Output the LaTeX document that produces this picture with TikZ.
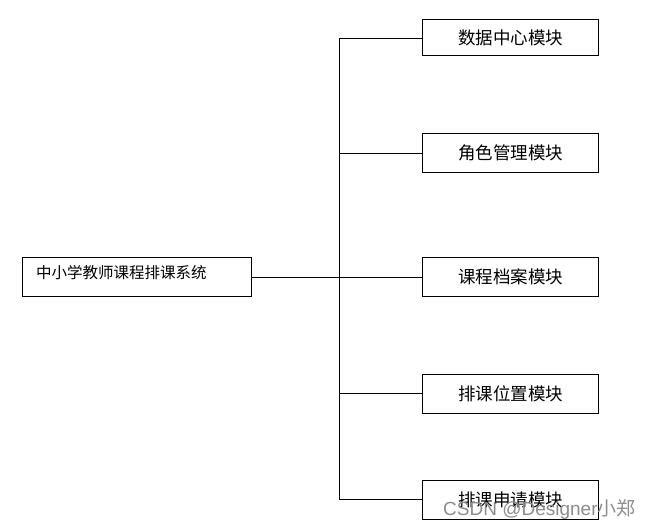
\documentclass[tikz,border=0pt]{standalone}
\usepackage{fontspec}
\newfontfamily\cjk{Noto Sans CJK SC}
\newfontfamily\wmfont{Liberation Sans}
\begin{document}
\begin{tikzpicture}[x=1pt,y=-1pt,
  box/.style={draw,line width=1pt,inner sep=0pt,anchor=north west},
  mod/.style={font=\cjk\fontsize{17.5}{18}\selectfont},
  link/.style={line width=1pt}]
\useasboundingbox (0,0) rectangle (653,530);
\node[box,minimum width=229pt,minimum height=39pt] (root) at (22,257) {};
\node[anchor=west,font=\cjk\fontsize{15.5}{16}\selectfont,inner sep=0pt] (roottext) at (36,273) {中小学教师课程排课系统};
\node[box,minimum width=176pt,minimum height=36pt] (m1) at (422,19) {};
\node[box,minimum width=176pt,minimum height=39pt] (m2) at (422,133) {};
\node[box,minimum width=176pt,minimum height=39pt] (m3) at (422,257) {};
\node[box,minimum width=176pt,minimum height=39pt] (m4) at (422,374) {};
\node[box,minimum width=176pt,minimum height=39pt] (m5) at (422,480) {};
\node[mod] at (m1.center) {数据中心模块};
\node[mod] at (m2.center) {角色管理模块};
\node[mod] at (m3.center) {课程档案模块};
\node[mod] at (m4.center) {排课位置模块};
\node[mod] at (m5.center) {排课申请模块};
\coordinate (t) at (339,38);
\coordinate (b) at (339,499);
\coordinate (j) at (339,277);
\draw[link] (t) -- (b);
\draw[link] (root.east |- j) -- (j);
\draw[link] (t) -- (m1.west |- t);
\draw[link] (339,153) -- (m2.west |- 0,153);
\draw[link] (j) -- (m3.west |- j);
\draw[link] (339,393) -- (m4.west |- 0,393);
\draw[link] (b) -- (m5.west |- b);
\node[anchor=west,inner sep=0pt,text=black!45,font=\wmfont\fontsize{19}{19}\selectfont] (wm) at (443,510) {CSDN @Designer{\cjk\fontsize{19}{19}\selectfont 小郑}};
\end{tikzpicture}
\end{document}
